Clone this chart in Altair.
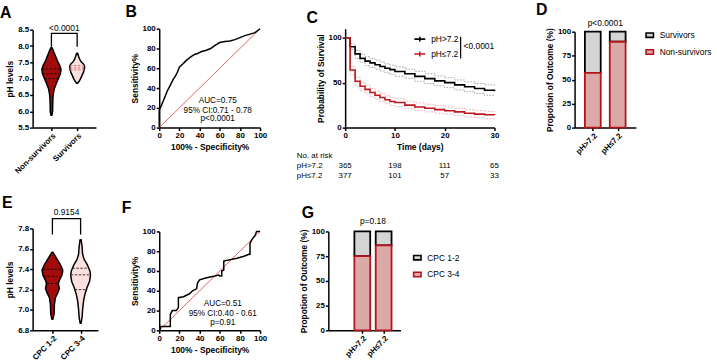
import altair as alt
import numpy as np
import pandas as pd

FONT = "Liberation Sans"
DARK_RED = "#A30B0B"
LIGHT_PINK = "#FBE0E0"
CURVE_RED = "#C0161C"
BAR_RED_FILL = "#DCA9A9"
BAR_RED_EDGE = "#B3141A"
BAR_GREY_FILL = "#D4D4D4"

# ---------------- A: pH by outcome (violin outlines) ----------------
outcome_groups = ["Non-survivors", "Survivors"]
ns_ph = [5.88, 6.00, 6.20, 6.40, 6.55, 6.70, 6.85, 7.00, 7.15, 7.28, 7.40, 7.55, 7.70, 7.85, 7.95]
ns_w = [0.02, 0.046, 0.05, 0.058, 0.077, 0.115, 0.19, 0.27, 0.346, 0.373, 0.327, 0.23, 0.154, 0.077, 0.02]
sv_ph = [6.86, 6.92, 7.00, 7.10, 7.20, 7.30, 7.38, 7.45, 7.52, 7.60, 7.68, 7.78]
sv_w = [0.02, 0.077, 0.135, 0.19, 0.25, 0.28, 0.29, 0.25, 0.154, 0.096, 0.058, 0.02]
ns_quart = [7.00, 7.15, 7.30]
sv_quart = [7.27, 7.33, 7.40]
a_p = "<0.0001"

# ---------------- B: ROC for mortality ----------------
roc_b_fpr = [0, 0, 1, 2, 4, 6, 8, 10, 12, 14, 16, 18, 20, 22, 25, 28, 32, 35, 38, 42, 46,
             51, 55, 60, 65, 70, 75, 80, 85, 90, 95, 100]
roc_b_tpr = [0, 18, 20, 22, 27, 32, 37, 41, 45, 49, 52, 56, 61, 63, 66, 69, 72, 74, 75, 77, 78,
             80, 83, 86, 87, 87.5, 89, 91, 93, 94.5, 96, 100]
roc_b_text = ["AUC=0.75", "95% CI:0.71 - 0.78", "p<0.0001"]

# ---------------- C: Kaplan-Meier survival ----------------
km_groups = ["pH>7.2", "pH≤7.2"]
km_t = [0, 1, 2, 3, 4, 5, 6, 7, 8, 9, 10, 12, 14, 16, 18, 20, 22, 24, 26, 28, 30]
km_hi = [100, 90, 82, 77, 74, 72, 70, 68, 66, 64.5, 62.5, 60, 57, 54.5, 52, 50, 47.5, 45.5, 43.5, 41.5, 40.5]
km_hi_up = [100, 93, 86, 81.5, 79, 77, 75, 73, 71, 69.5, 67.5, 65, 62.5, 60, 57.5, 55.5, 53, 51, 49, 47.5, 46.5]
km_hi_dn = [100, 87, 77, 72.5, 69, 67, 65, 63, 61, 59, 57, 55, 51.5, 49, 46.5, 44.5, 42, 40, 38, 36, 35]
km_lo = [100, 64, 51.5, 46, 42.5, 39, 36, 33.5, 31, 29, 28, 25, 23, 21.5, 20, 18.7, 17.5, 16, 15, 14.3, 14]
km_lo_up = [100, 68.5, 56, 50.5, 47, 43.5, 40.5, 38, 35.5, 33.5, 32.5, 29.5, 27.5, 26, 24.5, 23, 21.5, 20, 19, 18, 17.6]
km_lo_dn = [100, 59, 46.5, 41, 37.5, 34.5, 31.5, 29, 26.5, 24.5, 23.5, 21, 19, 17.5, 16, 15, 13.5, 12, 11, 10, 9.5]
km_p = "<0.0001"
risk_t = [0, 10, 20, 30]
risk_hi = [365, 198, 111, 65]
risk_lo = [377, 101, 57, 33]

# ---------------- D: outcome by pH group ----------------
ph_groups = ["pH>7.2", "pH≤7.2"]
d_nonsurv = [57, 89.5]
d_surv = [43, 10.5]
d_p = "p<0.0001"

# ---------------- E: pH by neurological outcome ----------------
cpc_groups = ["CPC 1-2", "CPC 3-4"]
good_ph = [6.91, 6.96, 7.05, 7.12, 7.17, 7.21, 7.26, 7.29, 7.34, 7.39, 7.44, 7.50, 7.566]
good_w = [0.018, 0.06, 0.07, 0.105, 0.193, 0.246, 0.21, 0.246, 0.333, 0.368, 0.291, 0.165, 0.018]
poor_ph = [6.87, 6.93, 7.00, 7.09, 7.16, 7.22, 7.28, 7.34, 7.38, 7.44, 7.50, 7.55, 7.62, 7.69]
poor_w = [0.018, 0.053, 0.07, 0.105, 0.158, 0.228, 0.316, 0.351, 0.333, 0.246, 0.123, 0.07, 0.053, 0.018]
good_quart = [7.26, 7.33, 7.40]
poor_quart = [7.20, 7.345, 7.41]
e_p = "0.9154"

# ---------------- F: ROC for neurological outcome ----------------
roc_f_fpr = [0, 1, 1, 10, 11, 11, 13, 17, 19, 19, 24, 30, 33, 37, 38, 40, 46, 55, 59, 60, 62, 62,
             64, 64, 77, 84, 89, 90, 90, 92, 95, 96.5, 98, 100]
roc_f_tpr = [0, 0, 4, 4, 4, 16, 20, 20, 23, 33, 34, 37, 40, 42, 48, 51, 53, 55, 56, 55, 55, 60,
             61, 70, 73, 75, 77, 77, 88, 92, 96, 100, 100, 100]
roc_f_text = ["AUC=0.51", "95% CI:0.40 - 0.61", "p=0.91"]

# ---------------- G: neurological outcome by pH group ----------------
g_poor = [75, 86]
g_good = [25, 14]
g_p = "p=0.18"


def sc(domain, rng):
    return alt.Scale(domain=domain, range=rng, nice=False, zero=False)


def panel_letter(txt, dx, dy):
    """Bold panel label placed relative to the panel's top-left plot corner."""
    return alt.Chart(pd.DataFrame({"t": [txt]})).mark_text(
        font=FONT, fontSize=16, fontWeight="bold", color="black",
        align="left", baseline="alphabetic").encode(
        text="t:N", x=alt.value(dx), y=alt.value(dy))


def cat_expr(names):
    return "[" + ",".join("'" + n + "'" for n in names) + "][datum.value - 1]"


def violin_panel(label, groups, outlines, quartiles, dash_colors, fills, x_dom, x_rng,
                 y_dom, y_rng, y_vals, bracket_y, leg_y, p_label, p_y, width, height):
    rows, qrows = [], []
    for i, (g, (phs, ws), qs) in enumerate(zip(groups, outlines, quartiles)):
        for p, w in zip(phs, ws):
            rows.append(dict(group=g, ph=p, lo=i + 1 - w, hi=i + 1 + w))
        for q in qs:
            w = float(np.interp(q, phs, ws))
            qrows.append(dict(group=g, ph=q, lo=i + 1 - w, hi=i + 1 + w))
    vdf, qdf = pd.DataFrame(rows), pd.DataFrame(qrows)

    X = alt.X("lo:Q", scale=sc(x_dom, x_rng),
              axis=alt.Axis(values=[1, 2], labelExpr=cat_expr(groups), labelAngle=-45, title=None))
    Y = alt.Y("ph:Q", scale=sc(y_dom, y_rng),
              axis=alt.Axis(values=y_vals, format=".1f", title="pH levels"))

    violins = alt.Chart(vdf).mark_area(orient="horizontal", stroke="black", strokeWidth=1.5,
                                       strokeJoin="round").encode(
        y=Y, x=X, x2="hi:Q",
        fill=alt.Fill("group:N", scale=alt.Scale(domain=groups, range=fills), legend=None),
        detail="group:N")
    quart = alt.Chart(qdf).mark_rule(strokeDash=[2.5, 1.5], strokeWidth=0.9).encode(
        y=Y, x=X, x2="hi:Q",
        stroke=alt.Stroke("group:N", scale=alt.Scale(domain=groups, range=dash_colors), legend=None))
    bdf = pd.DataFrame({"lo": [1, 1, 2, 2], "ph": [leg_y, bracket_y, bracket_y, leg_y], "k": [0, 1, 2, 3]})
    bracket = alt.Chart(bdf).mark_line(color="black", strokeWidth=1.3).encode(
        x=X, y=Y, order="k:Q")
    pdf = pd.DataFrame({"lo": [1.5], "ph": [p_y], "t": [p_label]})
    ptxt = alt.Chart(pdf).mark_text(font=FONT, fontSize=8.5, baseline="middle").encode(
        x=X, y=Y, text="t:N")
    return alt.layer(violins, quart, bracket, ptxt, label).properties(width=width, height=height)


def roc_panel(label, fpr, tpr, texts, text_x, text_y, x_rng, y_rng, width, height):
    X = alt.X("fpr:Q", scale=sc([0, 100], x_rng),
              axis=alt.Axis(values=[0, 20, 40, 60, 80, 100], title="100% - Specificity%"))
    Y = alt.Y("tpr:Q", scale=sc([0, 100], y_rng),
              axis=alt.Axis(values=[0, 20, 40, 60, 80, 100], title="Sensitivity%"))
    diag = alt.Chart(pd.DataFrame({"fpr": [0, 100], "tpr": [0, 100]})).mark_line(
        color="#E0393E", strokeWidth=0.8).encode(x=X, y=Y)
    curve = alt.Chart(pd.DataFrame({"fpr": fpr, "tpr": tpr, "k": range(len(fpr))})).mark_line(
        color="black", strokeWidth=1.5, strokeJoin="miter").encode(x=X, y=Y, order="k:Q")
    tdf = pd.DataFrame({"fpr": [text_x] * len(texts), "tpr": text_y, "t": texts})
    txt = alt.Chart(tdf).mark_text(font=FONT, fontSize=8.3, baseline="middle").encode(
        x=X, y=Y, text="t:N")
    return alt.layer(diag, curve, txt, label).properties(width=width, height=height)


def bar_panel(label, groups, lower, upper, lower_name, upper_name, x_dom, x_rng, y_rng,
              p_label, p_y, leg_x, leg_y, width, height, y_offset=0):
    rows = []
    for i in range(len(groups)):
        rows.append(dict(pos=i + 1, outcome=upper_name, val=upper[i], ord=1))
        rows.append(dict(pos=i + 1, outcome=lower_name, val=lower[i], ord=0))
    df = pd.DataFrame(rows)
    names = [upper_name, lower_name]
    X = alt.X("pos:Q", scale=sc(x_dom, x_rng),
              axis=alt.Axis(values=[1, 2], labelExpr=cat_expr(groups), labelAngle=-45, title=None))
    yscale = sc([0, 100], y_rng)
    yaxis = alt.Axis(values=[0, 25, 50, 75, 100], title="Propotion of Outcome (%)", offset=y_offset)
    leg = alt.Legend(title=None, orient="none", legendX=leg_x, legendY=leg_y,
                     symbolType="M-1,-0.6H1V0.6H-1Z", symbolSize=56, symbolStrokeWidth=1.6,
                     labelFont=FONT, labelFontSize=8.5, labelColor="black", labelOffset=5,
                     rowPadding=5)
    bars = alt.Chart(df).mark_bar(size=16, strokeWidth=1.8).encode(
        x=X, y=alt.Y("val:Q", stack="zero", scale=yscale, axis=yaxis),
        order=alt.Order("ord:Q"),
        fill=alt.Fill("outcome:N", scale=alt.Scale(domain=names, range=[BAR_GREY_FILL, BAR_RED_FILL]), legend=leg),
        stroke=alt.Stroke("outcome:N", scale=alt.Scale(domain=names, range=["black", BAR_RED_EDGE]), legend=leg))
    pdf = pd.DataFrame({"pos": [1.5], "val": [p_y], "t": [p_label]})
    ptxt = alt.Chart(pdf).mark_text(font=FONT, fontSize=8.5, baseline="middle").encode(
        x=X, y=alt.Y("val:Q", stack=None, scale=yscale, axis=yaxis), text="t:N")
    return alt.layer(bars, ptxt, label).properties(width=width, height=height)


def km_panel(label, width, height):
    rows, ci = [], []
    for g, s, up, dn in [(km_groups[0], km_hi, km_hi_up, km_hi_dn),
                         (km_groups[1], km_lo, km_lo_up, km_lo_dn)]:
        for t, v, u, d in zip(km_t, s, up, dn):
            rows.append(dict(group=g, t=t, s=v))
            ci.append(dict(series=g, band="upper", t=t, s=u))
            ci.append(dict(series=g, band="lower", t=t, s=d))
    kdf, cdf = pd.DataFrame(rows), pd.DataFrame(ci)
    X = alt.X("t:Q", scale=sc([0, 30], [0, 151]),
              axis=alt.Axis(values=[0, 10, 20, 30], title="Time (days)"))
    Y = alt.Y("s:Q", scale=sc([0, 110], [100, 0]),
              axis=alt.Axis(values=[0, 50, 100], title="Probability of Survival"))
    # dotted 95% confidence limits, one layer per group
    band_layers = [
        alt.Chart(cdf[cdf.series == g]).mark_line(interpolate="step-after", strokeDash=[1.5, 1.5],
                                                  strokeWidth=0.8, color=col).encode(
            x=X, y=Y, detail="band:N")
        for g, col in zip(km_groups, ["#8C8C8C", "#E69A9A"])
    ]
    curves = alt.Chart(kdf).mark_line(interpolate="step-after", strokeWidth=1.6).encode(
        x=X, y=Y,
        color=alt.Color("group:N", scale=alt.Scale(domain=km_groups, range=["black", CURVE_RED]),
                        legend=alt.Legend(title=None, orient="none", legendX=69, legendY=4,
                                          symbolType="M-1,0H1M0,-0.45V0.45", symbolSize=121,
                                          symbolStrokeWidth=1.6,
                                          labelFont=FONT, labelFontSize=8.5, labelColor="black",
                                          labelOffset=5, rowPadding=2)))
    bar = alt.Chart(pd.DataFrame({"t": [23.2], "s": [101.2], "s2": [77.0]})).mark_rule(
        color="black", strokeWidth=1.2).encode(x=X, y=Y, y2="s2:Q")
    ptxt = alt.Chart(pd.DataFrame({"t": [23.8], "s": [90.2], "txt": [km_p]})).mark_text(
        font=FONT, fontSize=8.5, align="left", baseline="middle").encode(x=X, y=Y, text="txt:N")
    # number-at-risk table under the time axis
    trow = [dict(t=-9.7, s=-31.6, txt="No. at risk", a="l"),
            dict(t=-9.7, s=-42.6, txt=km_groups[0], a="l"),
            dict(t=-9.7, s=-53.6, txt=km_groups[1], a="l")]
    for t, a, b in zip(risk_t, risk_hi, risk_lo):
        trow.append(dict(t=t, s=-42.6, txt=str(a), a="c"))
        trow.append(dict(t=t, s=-53.6, txt=str(b), a="c"))
    tdf = pd.DataFrame(trow)
    tleft = alt.Chart(tdf[tdf.a == "l"]).mark_text(font=FONT, fontSize=8, align="left",
                                                   baseline="middle").encode(x=X, y=Y, text="txt:N")
    tmid = alt.Chart(tdf[tdf.a == "c"]).mark_text(font=FONT, fontSize=8, align="center",
                                                  baseline="middle").encode(x=X, y=Y, text="txt:N")
    return alt.layer(*band_layers, curves, bar, ptxt, tleft, tmid, label).properties(
        width=width, height=height)


A = violin_panel(panel_letter("A", -33, -11), outcome_groups, [(ns_ph, ns_w), (sv_ph, sv_w)],
                 [ns_quart, sv_quart], ["#1A0000", "#D06060"], [DARK_RED, LIGHT_PINK],
                 [1 - 19 / 26, 2 + 19 / 26], [0, 64], [5.5, 8.5], [100, 1],
                 [5.5, 6.0, 6.5, 7.0, 7.5, 8.0, 8.5], 8.39, 7.98, a_p, 8.56, 128, 100)
B = roc_panel(panel_letter("B", -34, -12), roc_b_fpr, roc_b_tpr, roc_b_text, 58, [27, 17, 9],
              [0, 102], [100, 0], 188, 100)
C = km_panel(panel_letter("C", -39, -6), 232, 100)
D = bar_panel(panel_letter("D", -39, -14), ph_groups, d_nonsurv, d_surv, "Non-survivors", "Survivors",
              [1 - 16 / 30, 1 + 46 / 30], [0, 62], [100, 3], d_p, 109.3, 71, 1.5, 62, 100)
E = violin_panel(panel_letter("E", -31, -21), cpc_groups, [(good_ph, good_w), (poor_ph, poor_w)],
                 [good_quart, poor_quart], ["#1A0000", "#3A1A1A"], [DARK_RED, LIGHT_PINK],
                 [1 - 20 / 28.5, 1 + 46 / 28.5], [0, 66], [6.8, 7.8], [103, 0],
                 [6.8, 7.0, 7.2, 7.4, 7.6, 7.8], 7.896, 7.74, e_p, 7.966, 128, 103)
F = roc_panel(panel_letter("F", -38, -16), roc_f_fpr, roc_f_tpr, roc_f_text, 63, [27, 17, 7],
              [0, 102], [103, 3], 188, 103)
# G sits 17 px left of the third column's edge, so its scale and axis are shifted
G = bar_panel(panel_letter("G", -44, -11), ph_groups, g_poor, g_good, "CPC 3-4", "CPC 1-2",
              [1 - 34 / 25, 1 + 39 / 25], [-17, 56], [103, 3], g_p, 110.3, 68, 24.5, 232, 103,
              y_offset=17)

chart = alt.concat(A, B, C, D, E, F, G, columns=4, spacing={"row": 102, "column": 0},
                   bounds="flush", align="each").resolve_scale(
    fill="independent", stroke="independent", color="independent"
).resolve_legend(
    fill="independent", stroke="independent", color="independent"
).properties(
    padding={"left": 0, "top": 0, "right": 5, "bottom": 2},
    background="white",
).configure_view(stroke=None).configure_axis(
    domainColor="black", domainWidth=1.5, tickColor="black", tickWidth=1.5, tickSize=3,
    labelFont=FONT, labelFontSize=8, labelFontWeight="bold", labelColor="black",
    labelPadding=1, labelFlush=False, labelOverlap=False,
    titleFont=FONT, titleFontSize=8.5, titleFontWeight="bold", titleColor="black",
    titlePadding=3, grid=False,
)

chart.save("out.html", embed_options={"renderer": "svg", "actions": False})
